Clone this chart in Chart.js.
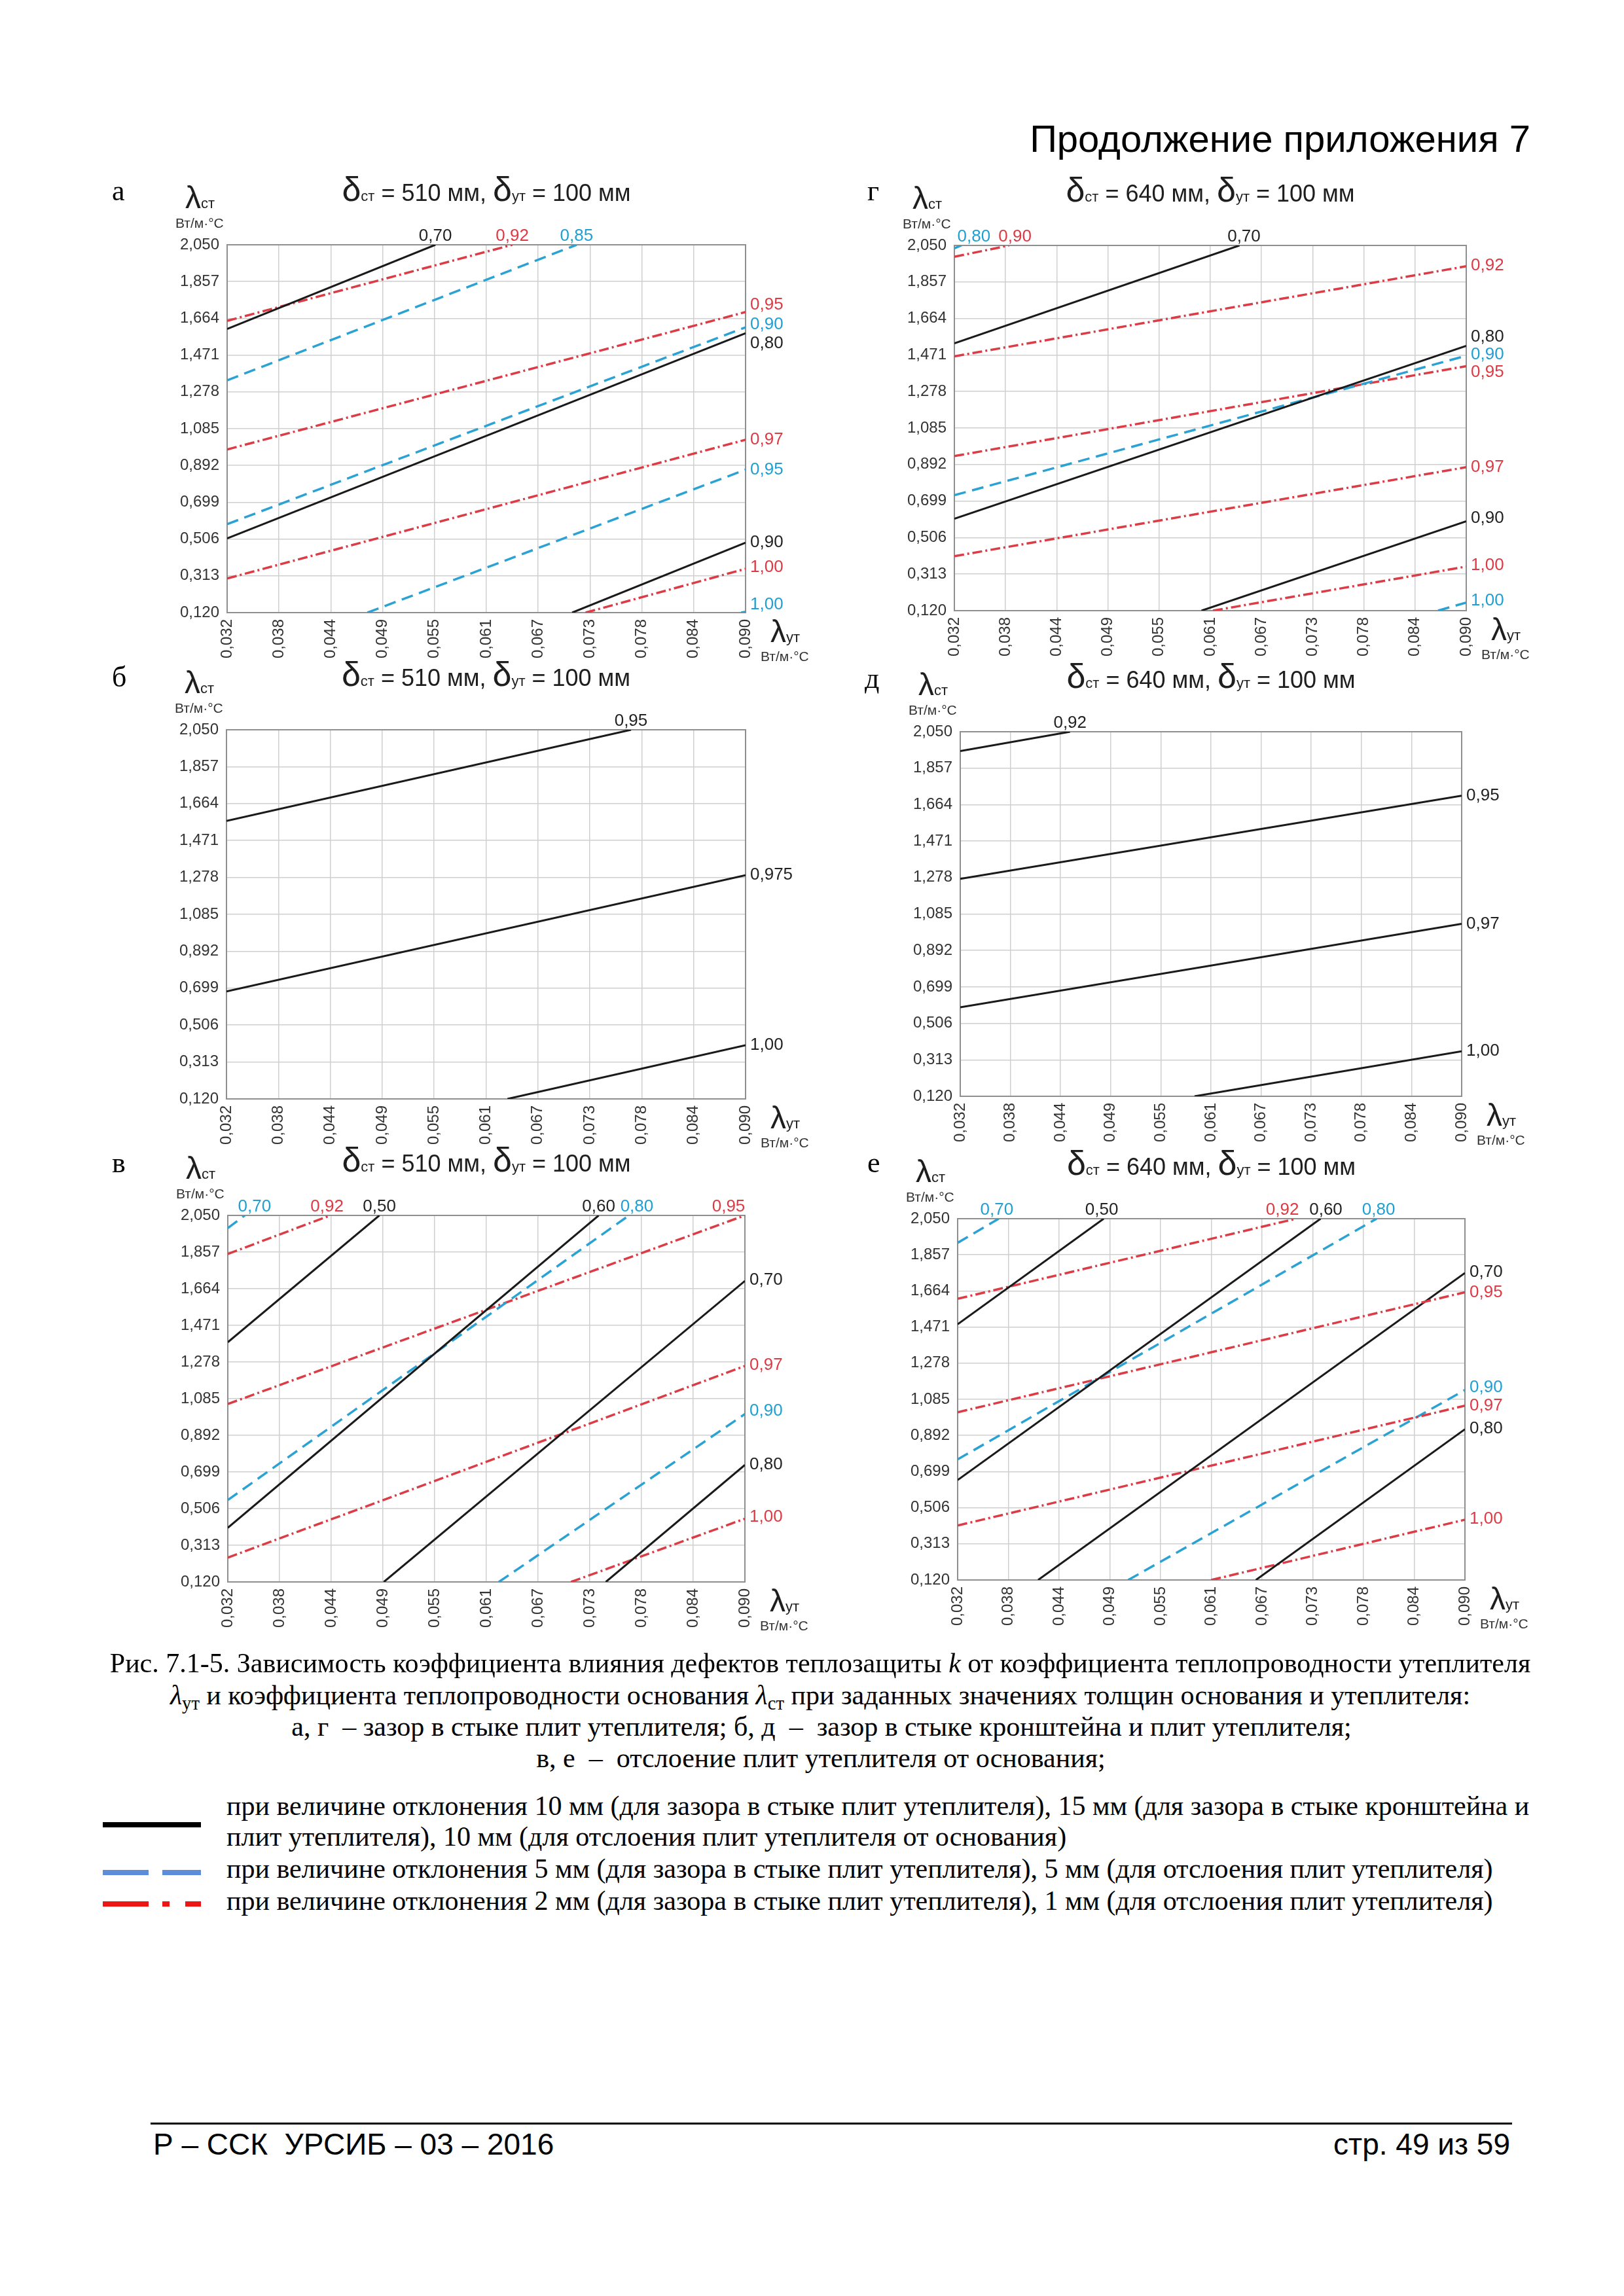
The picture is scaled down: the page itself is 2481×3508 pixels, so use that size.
<!DOCTYPE html>
<html><head><meta charset="utf-8">
<script src="https://cdn.jsdelivr.net/npm/chart.js@4.4.1/dist/chart.umd.min.js"></script>
<style>
html,body{margin:0;padding:0;background:#fff;}
body{width:2481px;height:3508px;position:relative;overflow:hidden;}
.t{position:absolute;white-space:pre;line-height:1;}
.serif{font-family:"Liberation Serif","Times New Roman",serif;color:#000;}
.sans{font-family:"Liberation Sans",Arial,sans-serif;color:#000;}
.t sub{font-size:0.68em;vertical-align:-0.28em;line-height:1;}
canvas{position:absolute;}
.bar{position:absolute;}
</style></head><body>
<script>
// ---------- axis tick labels ----------
const xTickLabels = ['0,032','0,038','0,044','0,049','0,055','0,061','0,067','0,073','0,078','0,084','0,090'];
const yTickLabels = ['0,120','0,313','0,506','0,699','0,892','1,085','1,278','1,471','1,664','1,857','2,050'];
const num = s => parseFloat(s.replace(',', '.'));
const xMin = num(xTickLabels[0]), xMax = num(xTickLabels[xTickLabels.length-1]);
const yMin = num(yTickLabels[0]), yMax = num(yTickLabels[yTickLabels.length-1]);

// ---------- series (dev10 = 10/15 mm, dev5 = 5 mm, dev2 = 2/1 mm) ----------
// а : δст = 510, δут = 100
const aKinds  = ['dev10','dev2','dev5','dev2','dev5','dev10','dev2','dev5','dev10','dev2','dev5'];
const aLabels = ['0,70','0,92','0,85','0,95','0,90','0,80','0,97','0,95','0,90','1,00','1,00'];
const aStart  = [[0.032,1.608],[0.032,1.651],[0.032,1.339],[0.032,0.976],[0.032,0.584],[0.032,0.509],[0.032,0.299],[0.0477,0.120],[0.0706,0.120],[0.0721,0.120],[0.0895,0.120]];
const aEnd    = [[0.0553,2.050],[0.0639,2.050],[0.0711,2.050],[0.090,1.697],[0.090,1.617],[0.090,1.586],[0.090,1.027],[0.090,0.870],[0.090,0.487],[0.090,0.350],[0.090,0.124]];

// г : δст = 640, δут = 100
const gKinds  = ['dev5','dev2','dev10','dev2','dev10','dev5','dev2','dev2','dev10','dev2','dev5'];
const gLabels = ['0,80','0,90','0,70','0,92','0,80','0,90','0,95','0,97','0,90','1,00','1,00'];
const gStart  = [[0.032,2.035],[0.032,1.990],[0.032,1.533],[0.032,1.464],[0.032,0.606],[0.032,0.730],[0.032,0.937],[0.032,0.408],[0.0600,0.120],[0.0613,0.120],[0.0868,0.120]];
const gEnd    = [[0.0328,2.050],[0.0382,2.050],[0.0643,2.050],[0.090,1.940],[0.090,1.519],[0.090,1.467],[0.090,1.412],[0.090,0.878],[0.090,0.592],[0.090,0.353],[0.090,0.163]];

// б : δст = 510, δут = 100
const bKinds  = ['dev10','dev10','dev10'];
const bLabels = ['0,95','0,975','1,00'];
const bStart  = [[0.032,1.573],[0.032,0.682],[0.0634,0.120]];
const bEnd    = [[0.0772,2.050],[0.090,1.290],[0.090,0.401]];

// д : δст = 640, δут = 100
const dKinds  = ['dev10','dev10','dev10','dev10'];
const dLabels = ['0,92','0,95','0,97','1,00'];
const dStart  = [[0.032,1.948],[0.032,1.271],[0.032,0.591],[0.0591,0.120]];
const dEnd    = [[0.0447,2.050],[0.090,1.711],[0.090,1.033],[0.090,0.358]];

// в : δст = 510, δут = 100
const vKinds  = ['dev5','dev2','dev10','dev10','dev5','dev2','dev10','dev2','dev5','dev10','dev2'];
const vLabels = ['0,70','0,92','0,50','0,60','0,80','0,95','0,70','0,97','0,90','0,80','1,00'];
const vStart  = [[0.032,1.983],[0.032,1.847],[0.032,1.382],[0.032,0.405],[0.032,0.551],[0.032,1.057],[0.0495,0.120],[0.032,0.248],[0.0624,0.120],[0.0744,0.120],[0.0705,0.120]];
const vEnd    = [[0.0339,2.050],[0.0435,2.050],[0.0490,2.050],[0.0736,2.050],[0.0770,2.050],[0.090,2.050],[0.090,1.705],[0.090,1.257],[0.090,1.004],[0.090,0.736],[0.090,0.453]];

// е : δст = 640, δут = 100
const eKinds  = ['dev5','dev10','dev2','dev10','dev5','dev2','dev10','dev2','dev5','dev10','dev2'];
const eLabels = ['0,70','0,50','0,92','0,60','0,80','0,95','0,70','0,97','0,90','0,80','1,00'];
const eStart  = [[0.032,1.921],[0.032,1.486],[0.032,1.622],[0.032,0.654],[0.032,0.764],[0.032,1.016],[0.0412,0.120],[0.032,0.411],[0.0515,0.120],[0.0661,0.120],[0.0610,0.120]];
const eEnd    = [[0.0367,2.050],[0.0487,2.050],[0.0707,2.050],[0.0735,2.050],[0.0799,2.050],[0.090,1.657],[0.090,1.760],[0.090,1.051],[0.090,1.135],[0.090,0.925],[0.090,0.442]];

// ---------- styles / layout (kept apart from data) ----------
const lineStyle = {
  dev10: {color:'#1a1a1a', width:3,   dash:[], text:'#222222'},
  dev5:  {color:'#2aa2d3', width:3.5, dash:[18,10], text:'#1f9fd3'},
  dev2:  {color:'#dc3c46', width:3.5, dash:[15,5,3,5], text:'#dd3a44'}
};
const nudge = {
  a: [[0,0],[0,0],[0,0],[0,-11],[0,-4],[0,16],[0,0],[0,0],[0,0],[0,-2],[0,-11]],
  g: [[19,0],[9,0],[7,0],[0,-1],[0,-14],[0,-2],[0,9],[0,0],[0,-5],[0,-2],[0,-3]],
  b: [[0,0],[0,0],[0,0]],
  d: [[0,0],[0,0],[0,0],[0,0]],
  v: [[15,0],[-5,0],[0,0],[0,0],[12,0],[-25,0],[0,-1],[0,-1],[0,-5],[0,0],[0,-3]],
  e: [[-3,0],[-3,0],[-21,0],[8,0],[3,0],[0,0],[0,-1],[0,0],[0,-4],[0,-1],[0,-1]]
};
const panels = [
  {key:'a', wall:'510', ins:'100', box:[347,374,1139,936],  kinds:aKinds, labels:aLabels, start:aStart, end:aEnd},
  {key:'g', wall:'640', ins:'100', box:[1458,375,2240,933], kinds:gKinds, labels:gLabels, start:gStart, end:gEnd},
  {key:'b', wall:'510', ins:'100', box:[346,1115,1139,1679], kinds:bKinds, labels:bLabels, start:bStart, end:bEnd},
  {key:'d', wall:'640', ins:'100', box:[1467,1118,2233,1675], kinds:dKinds, labels:dLabels, start:dStart, end:dEnd},
  {key:'v', wall:'510', ins:'100', box:[348,1857,1138,2417], kinds:vKinds, labels:vLabels, start:vStart, end:vEnd},
  {key:'e', wall:'640', ins:'100', box:[1463,1862,2238,2414], kinds:eKinds, labels:eLabels, start:eStart, end:eEnd}
];

const SANS = '"Liberation Sans", Arial, sans-serif';

function drawSegs(ctx, segs, x, y, align) {
  let total = 0;
  segs.forEach(s => { ctx.font = s[1] + 'px ' + SANS; total += ctx.measureText(s[0]).width; });
  let cx = align === 'center' ? x - total/2 : x;
  ctx.textAlign = 'left'; ctx.textBaseline = 'alphabetic';
  segs.forEach(s => { ctx.font = s[1] + 'px ' + SANS; ctx.fillText(s[0], cx, y); cx += ctx.measureText(s[0]).width; });
}

function makePanel(p) {
  const [L,T,R,B] = p.box;
  const PADL = 210, PADT = 120, PADR = 120, PADB = 115;
  const W = (R-L)+PADL+PADR, H = (B-T)+PADT+PADB;
  const cv = document.createElement('canvas');
  cv.width = W; cv.height = H;
  cv.style.left = (L-PADL)+'px'; cv.style.top = (T-PADT)+'px';
  cv.style.width = W+'px'; cv.style.height = H+'px';
  document.body.appendChild(cv);
  const nd = nudge[p.key];
  const datasets = p.labels.map((lab, i) => {
    const st = lineStyle[p.kinds[i]];
    return {
      label: lab,
      data: [{x:p.start[i][0], y:p.start[i][1]}, {x:p.end[i][0], y:p.end[i][1]}],
      borderColor: st.color, borderWidth: st.width, borderDash: st.dash,
      showLine: true, pointRadius: 0, fill: false, tension: 0
    };
  });
  const plugin = {
    id: 'panelText',
    beforeDatasetsDraw(chart) {
      const {ctx, chartArea: ca} = chart;
      ctx.save();
      ctx.strokeStyle = '#8f8f8f'; ctx.lineWidth = 2;
      ctx.strokeRect(ca.left, ca.top, ca.right-ca.left, ca.bottom-ca.top);
      ctx.restore();
    },
    afterDatasetsDraw(chart) {
      const {ctx, chartArea: ca, scales} = chart;
      ctx.save();
      ctx.font = '26px ' + SANS;
      p.labels.forEach((lab, i) => {
        const st = lineStyle[p.kinds[i]];
        const ex = scales.x.getPixelForValue(p.end[i][0]);
        const ey = scales.y.getPixelForValue(p.end[i][1]);
        ctx.fillStyle = st.text;
        if (p.end[i][1] >= yMax - 0.0005) {
          ctx.textAlign = 'center'; ctx.textBaseline = 'alphabetic';
          ctx.fillText(lab, ex + nd[i][0], ca.top - 6 + nd[i][1]);
        } else {
          ctx.textAlign = 'left'; ctx.textBaseline = 'middle';
          ctx.fillText(lab, ca.right + 7 + nd[i][0], ey + nd[i][1]);
        }
      });
      ctx.restore();
    },
    afterDraw(chart) {
      const {ctx, chartArea: ca} = chart;
      ctx.save();
      ctx.fillStyle = '#1e1e1e';
      drawSegs(ctx, [['δ',52],['ст',22],[' = ' + p.wall + ' мм, ',36],['δ',52],['ут',22],[' = ' + p.ins + ' мм',36]],
               (ca.left+ca.right)/2, ca.top - 67, 'center');
      drawSegs(ctx, [['λ',48],['ст',22]], ca.left - 64, ca.top - 56, 'left');
      ctx.fillStyle = '#333';
      drawSegs(ctx, [['Вт/м·°С',21]], ca.left - 79, ca.top - 26, 'left');
      ctx.fillStyle = '#1e1e1e';
      drawSegs(ctx, [['λ',48],['ут',22]], ca.right + 38, ca.bottom + 45, 'left');
      ctx.fillStyle = '#333';
      drawSegs(ctx, [['Вт/м·°С',21]], ca.right + 23, ca.bottom + 74, 'left');
      ctx.restore();
    }
  };
  const tickFont = {family: 'Liberation Sans', size: 24};
  new Chart(cv, {
    type: 'scatter',
    data: {datasets},
    options: {
      responsive: false, animation: false, devicePixelRatio: 1,
      layout: {padding: {left: 0, top: PADT, right: PADR, bottom: 0}},
      plugins: {legend: {display: false}, tooltip: {enabled: false}},
      scales: {
        x: {
          type: 'linear', min: xMin, max: xMax,
          afterBuildTicks: s => { s.ticks = xTickLabels.map((_, i) => ({value: xMin + (xMax-xMin)*i/(xTickLabels.length-1)})); },
          afterFit: s => { s.height = PADB; },
          grid: {color: '#cfcfcf', lineWidth: 1.5, drawTicks: false},
          border: {display: false},
          ticks: {callback: (v, i) => xTickLabels[i], minRotation: 90, maxRotation: 90, padding: 10,
                  color: '#333', font: tickFont, autoSkip: false}
        },
        y: {
          type: 'linear', min: yMin, max: yMax,
          afterBuildTicks: s => { s.ticks = yTickLabels.map((_, i) => ({value: yMin + (yMax-yMin)*i/(yTickLabels.length-1)})); },
          afterFit: s => { s.width = PADL; },
          grid: {color: '#cfcfcf', lineWidth: 1.5, drawTicks: false},
          border: {display: false},
          ticks: {callback: (v, i) => yTickLabels[i], padding: 12, color: '#333', font: tickFont, autoSkip: false}
        }
      }
    },
    plugins: [plugin]
  });
}
panels.forEach(makePanel);

// ---------- page text ----------
function txt(html, cls, size, x, baseline, align) {
  const d = document.createElement('div');
  d.className = 't ' + cls;
  d.style.fontSize = size + 'px';
  const k = cls === 'serif' ? 0.8375 : 0.8465;
  d.style.top = (baseline - k*size) + 'px';
  d.style.left = x + 'px';
  if (align === 'center') d.style.transform = 'translateX(-50%)';
  if (align === 'right') d.style.transform = 'translateX(-100%)';
  d.innerHTML = html;
  document.body.appendChild(d);
}
function bar(x, y, w, h, c) {
  const d = document.createElement('div');
  d.className = 'bar';
  d.style.cssText += `left:${x}px;top:${y}px;width:${w}px;height:${h}px;background:${c};`;
  document.body.appendChild(d);
}

txt('Продолжение приложения 7', 'sans', 58, 2338, 232, 'right');
[['а',171,307],['г',1325,307],['б',171,1050],['д',1321,1052],['в',171,1792],['е',1325,1792]]
  .forEach(l => txt(l[0], 'serif', 44, l[1], l[2], 'left'));

const CAP = 42;
txt('Рис. 7.1-5. Зависимость коэффициента влияния дефектов теплозащиты <i>k</i> от коэффициента теплопроводности утеплителя', 'serif', CAP, 1253, 2555, 'center');
txt('<i>λ</i><sub>ут</sub> и коэффициента теплопроводности основания <i>λ</i><sub>ст</sub> при заданных значениях толщин основания и утеплителя:', 'serif', CAP, 1253, 2604, 'center');
txt('а, г  – зазор в стыке плит утеплителя; б, д  –  зазор в стыке кронштейна и плит утеплителя;', 'serif', CAP, 1255, 2652, 'center');
txt('в, е  –  отслоение плит утеплителя от основания;', 'serif', CAP, 1254, 2700, 'center');

txt('при величине отклонения 10 мм (для зазора в стыке плит утеплителя), 15 мм (для зазора в стыке кронштейна и', 'serif', CAP, 346, 2773, 'left');
txt('плит утеплителя), 10 мм (для отслоения плит утеплителя от основания)', 'serif', CAP, 346, 2820, 'left');
txt('при величине отклонения 5 мм (для зазора в стыке плит утеплителя), 5 мм (для отслоения плит утеплителя)', 'serif', CAP, 346, 2869, 'left');
txt('при величине отклонения 2 мм (для зазора в стыке плит утеплителя), 1 мм (для отслоения плит утеплителя)', 'serif', CAP, 346, 2918, 'left');

bar(157, 2784, 150, 8, '#000');
bar(157, 2857, 70, 8, '#5b8ddb'); bar(248, 2857, 59, 8, '#5b8ddb');
bar(157, 2905, 70, 8, '#ee1515'); bar(248, 2905, 11, 8, '#ee1515'); bar(283, 2905, 24, 8, '#ee1515');

bar(230, 3243, 2080, 3, '#000');
txt('Р – ССК  УРСИБ – 03 – 2016', 'sans', 46, 234, 3292, 'left');
txt('стр. 49 из 59', 'sans', 46, 2307, 3292, 'right');
</script>
</body></html>
